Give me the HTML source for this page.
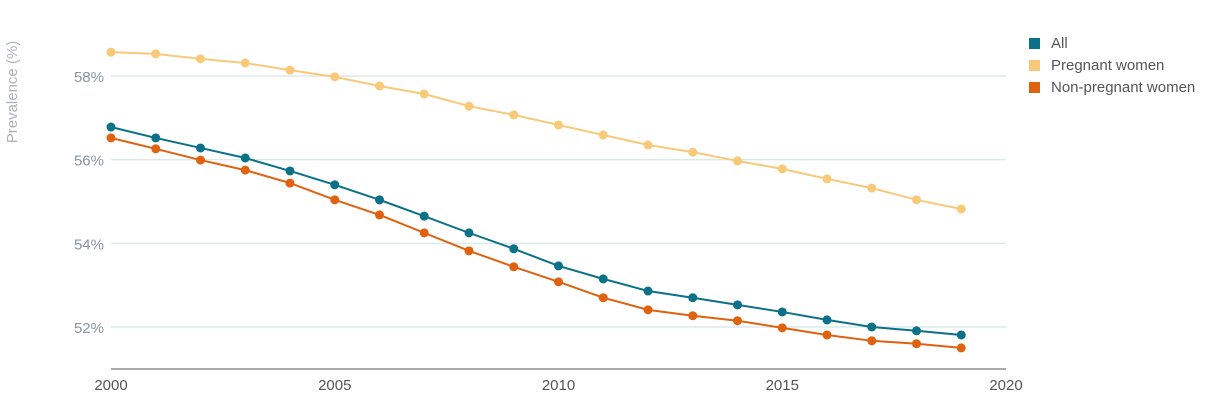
<!DOCTYPE html>
<html><head><meta charset="utf-8"><style>
body{margin:0;background:#fff;font-family:"Liberation Sans",sans-serif;}
svg text{font-family:"Liberation Sans",sans-serif;}
</style></head><body>
<svg id="chart" width="1230" height="403" xmlns="http://www.w3.org/2000/svg">
<g id="grid"></g>
<g id="axes"></g>
<g id="series"></g>
<text transform="translate(17,92) rotate(-90)" text-anchor="middle" font-size="15" fill="#aab2bd">Prevalence (%)</text>
<g>
<g><rect x="1029" y="38" width="11" height="11" fill="#0b7189"/><text x="1051" y="48" font-size="15" fill="#555">All</text></g>
<g><rect x="1029" y="60" width="11" height="11" fill="#f9c97a"/><text x="1051" y="70" font-size="15" fill="#555">Pregnant women</text></g>
<g><rect x="1029" y="82" width="11" height="11" fill="#e0610e"/><text x="1051" y="92" font-size="15" fill="#555">Non-pregnant women</text></g>
</g>
</svg>
<script>
const years=[2000,2001,2002,2003,2004,2005,2006,2007,2008,2009,2010,2011,2012,2013,2014,2015,2016,2017,2018,2019];
const allVals=[56.78,56.52,56.28,56.04,55.73,55.40,55.04,54.65,54.25,53.87,53.46,53.15,52.86,52.70,52.53,52.36,52.17,52.00,51.91,51.81];
const pregVals=[58.57,58.53,58.41,58.31,58.14,57.98,57.76,57.57,57.28,57.07,56.83,56.59,56.35,56.18,55.97,55.78,55.54,55.32,55.04,54.82];
const nonPregVals=[56.52,56.26,55.99,55.75,55.44,55.04,54.68,54.25,53.82,53.44,53.08,52.70,52.41,52.27,52.15,51.98,51.81,51.67,51.60,51.50];
const yTicks=[52,54,56,58];
const xTicks=[2000,2005,2010,2015,2020];
const NS="http://www.w3.org/2000/svg";
const X=v=>111+(v-2000)*(1006-111)/20;
const Y=v=>76+(58-v)*(327-76)/6;
function mk(t,a,p){const e=document.createElementNS(NS,t);for(const k in a)e.setAttribute(k,a[k]);p.appendChild(e);return e;}
const grid=document.getElementById('grid'),axes=document.getElementById('axes'),ser=document.getElementById('series');
yTicks.forEach(t=>{
 const l=mk('line',{x1:111,x2:1006,y1:Y(t),y2:Y(t),stroke:'#dcebea','stroke-width':1.5},grid);
 
 
 const tx=mk('text',{x:104,y:Y(t)+6,'text-anchor':'end','font-size':15,fill:'#8a94a3'},axes);
 tx.textContent=t+'%';
 
 
});
const ax=mk('line',{x1:111,x2:1006,y1:369,y2:369,stroke:'#555','stroke-width':1},axes);


xTicks.forEach(t=>{
 const tx=mk('text',{x:X(t),y:390,'text-anchor':'middle','font-size':15,fill:'#555'},axes);
 tx.textContent=t;
 
 
});
function draw(vals,color,name){
 const g=mk('g',{},ser);
 
 
 const p=mk('polyline',{points:vals.map((v,i)=>X(years[i])+','+Y(v)).join(' '),fill:'none',stroke:color,'stroke-width':2},g);
 
 
 vals.forEach((v,i)=>{
  const c=mk('circle',{cx:X(years[i]),cy:Y(v),r:4.5,fill:color},g);
  
  
 });
}
draw(pregVals,'#f9c97a','pregnant');
draw(allVals,'#0b7189','all');
draw(nonPregVals,'#e0610e','non-pregnant');
</script>
</body></html>
